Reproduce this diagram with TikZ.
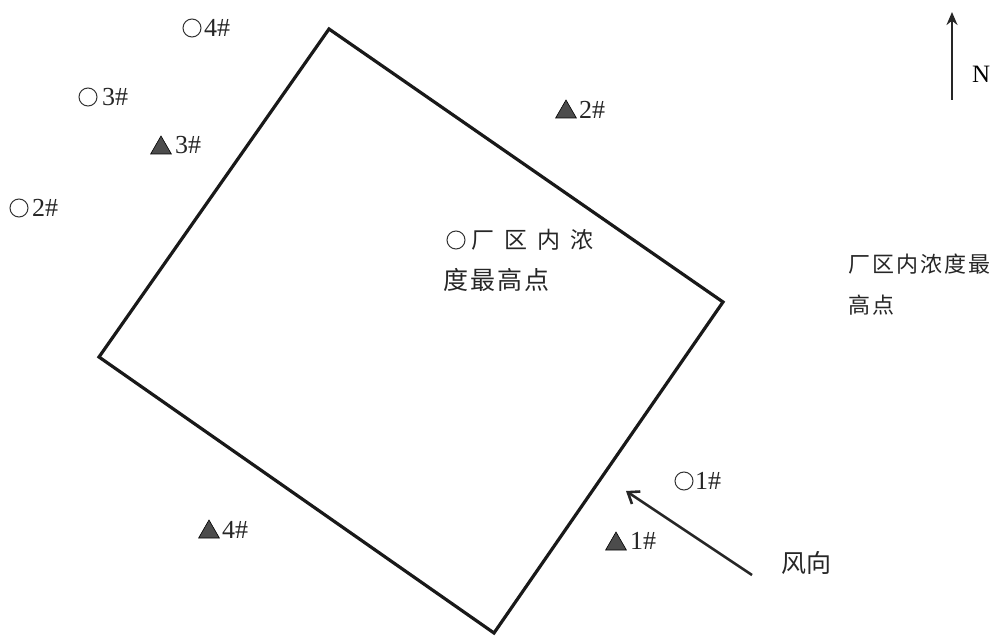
\documentclass[tikz,border=0pt]{standalone}
\usepackage{fontspec}
\setmainfont{Liberation Serif}
\newfontfamily\cjk{Noto Sans CJK SC}
\usetikzlibrary{arrows.meta,shapes.geometric}
\tikzset{
  circmark/.style={circle,draw=black!80,line width=1pt,minimum size=18pt,inner sep=0pt},
  trimark/.style={regular polygon,regular polygon sides=3,draw=black,fill=black!70,line width=0.6pt,minimum size=24pt,inner sep=0pt},
  lbl/.style={anchor=west,inner sep=0pt,font=\fontsize{26}{26}\selectfont,text=black!85},
  cjktext/.style={inner sep=0pt,font=\cjk\fontsize{22}{22}\selectfont,text=black!85},
  border/.style={line width=3.2pt,line join=miter,black!90},
  arr/.style={line width=2.6pt,black!85}
}
\begin{document}
\begin{tikzpicture}[x=1pt,y=-1pt]
\useasboundingbox (0,0) rectangle (999,639);
% plant boundary
\coordinate (c1) at (329,29);
\coordinate (c2) at (723,302);
\coordinate (c3) at (494,633);
\coordinate (c4) at (99,357);
\draw[border] (c1) -- (c2) -- (c3) -- (c4) -- cycle;
% circle markers
\node[circmark] (o4) at (192,28) {};
\node[lbl] (o4t) at (204,28) {4\#};
\node[circmark] (o3) at (88,97) {};
\node[lbl] (o3t) at (102,97) {3\#};
\node[circmark] (o2) at (19,208) {};
\node[lbl] (o2t) at (32,208) {2\#};
\node[circmark] (o1) at (684,481) {};
\node[lbl] (o1t) at (695,481) {1\#};
% triangle markers
\node[trimark] (t3) at (161,148) {};
\node[lbl] (t3t) at (175,145) {3\#};
\node[trimark] (t2) at (566,112) {};
\node[lbl] (t2t) at (579,110) {2\#};
\node[trimark] (t1) at (616,544) {};
\node[lbl] (t1t) at (630,541) {1\#};
\node[trimark] (t4) at (209,532) {};
\node[lbl] (t4t) at (222,530) {4\#};
% centre label
\node[circmark] (oc) at (456,240) {};
\node[cjktext,anchor=west,font=\cjk\fontsize{23}{23}\selectfont] (ct1) at (471,240) {厂\hspace{10pt}区\hspace{10pt}内\hspace{10pt}浓};
\node[cjktext,anchor=west,font=\cjk\fontsize{25}{25}\selectfont] (ct2) at (443,280) {度\hspace{2pt}最\hspace{2pt}高\hspace{2pt}点};
% right legend text
\node[cjktext,anchor=west] (rt1) at (848,264) {厂\hspace{2pt}区\hspace{2pt}内\hspace{2pt}浓\hspace{2pt}度\hspace{2pt}最};
\node[cjktext,anchor=west] (rt2) at (848,305) {高\hspace{2pt}点};
% north arrow
\coordinate (nb) at (952,100);
\coordinate (nt) at (952,12);
\draw[arr,-{Stealth[length=13pt,width=11pt]}] (nb) -- (nt);
\node[anchor=west,inner sep=0pt,font=\fontsize{25}{25}\selectfont] (N) at (972,74) {N};
% wind arrow
\coordinate (wb) at (752,575);
\coordinate (wt) at (626,491);
\draw[arr,-{Straight Barb[length=10pt,width=15pt,line width=2.6pt]}] (wb) -- (wt);
\node[cjktext,anchor=west,font=\cjk\fontsize{25}{25}\selectfont] (wind) at (781,563) {风向};
\end{tikzpicture}
\end{document}
